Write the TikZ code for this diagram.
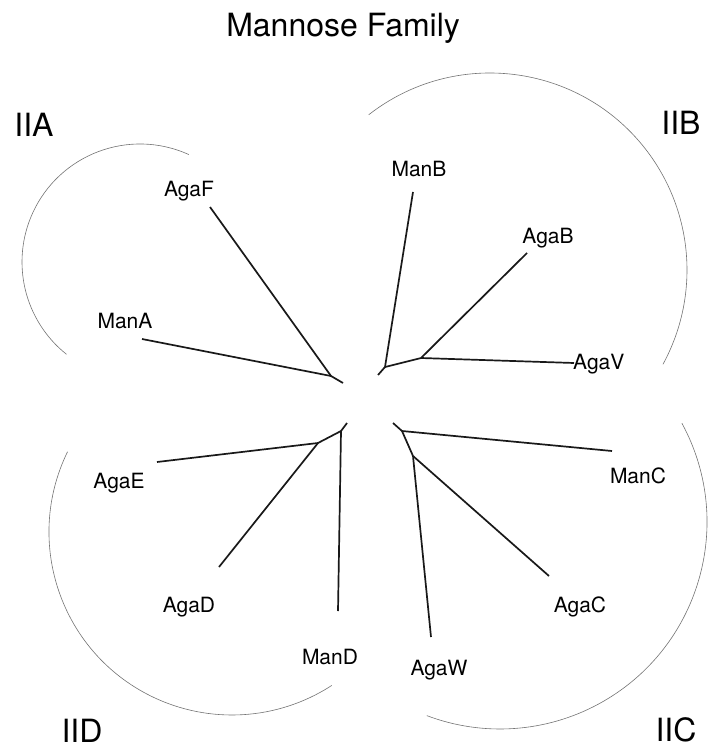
\documentclass[tikz,border=0pt]{standalone}
\usepackage{fontspec}
\setmainfont{TeX Gyre Heros}
\begin{document}
\begin{tikzpicture}[x=1pt,y=-1pt,
  branch/.style={line width=1.7pt,black!90},
  clade/.style={line width=0.6pt,black!55},
  leaf/.style={inner sep=0pt,font=\fontsize{21}{25}\selectfont},
  group/.style={inner sep=0pt,font=\fontsize{32}{38}\selectfont},
  heading/.style={inner sep=0pt,font=\fontsize{32}{38}\selectfont}]
\useasboundingbox (0,0) rectangle (707,749);

% title
\node[heading,anchor=base] (title) at (343,37) {Mannose Family};

% group labels
\node[group] (gA) at (34,125) {IIA};
\node[group] (gB) at (681,123) {IIB};
\node[group] (gC) at (676,730) {IIC};
\node[group] (gD) at (82,731) {IID};

% leaf labels
\node[leaf] (AgaF) at (189,191) {AgaF};
\node[leaf] (ManA) at (125,321) {ManA};
\node[leaf] (ManB) at (419,169) {ManB};
\node[leaf] (AgaB) at (548,238) {AgaB};
\node[leaf,anchor=west] (AgaV) at (573,364) {AgaV};
\node[leaf] (AgaE) at (119,483) {AgaE};
\node[leaf] (AgaD) at (189,607) {AgaD};
\node[leaf] (ManD) at (330,657) {ManD};
\node[leaf] (ManC) at (638,476) {ManC};
\node[leaf] (AgaC) at (580,607) {AgaC};
\node[leaf] (AgaW) at (439,670) {AgaW};

% inner nodes and branch tips
\coordinate (nA) at (331,376);
\coordinate (sA) at (343,383);
\coordinate (tAgaF) at (210,207);
\coordinate (tManA) at (142,339);

\coordinate (nB) at (385,367);
\coordinate (sB) at (378,375);
\coordinate (nB2) at (421,358);
\coordinate (tManB) at (413,192);
\coordinate (tAgaB) at (527,253);
\coordinate (tAgaV) at (574,363);

\coordinate (nD) at (341,431);
\coordinate (sD) at (347,423);
\coordinate (nD2) at (318,443);
\coordinate (tAgaE) at (157,462);
\coordinate (tAgaD) at (219,567);
\coordinate (tManD) at (338,611);

\coordinate (nC) at (402,431);
\coordinate (sC) at (393,423);
\coordinate (nC2) at (413,456);
\coordinate (tManC) at (612,451);
\coordinate (tAgaC) at (549,576);
\coordinate (tAgaW) at (431,637);

% branches
\draw[branch] (sA) -- (nA) -- (tAgaF);
\draw[branch] (nA) -- (tManA);

\draw[branch] (sB) -- (nB) -- (tManB);
\draw[branch] (nB) -- (nB2) -- (tAgaB);
\draw[branch] (nB2) -- (tAgaV);

\draw[branch] (sD) -- (nD) -- (tManD);
\draw[branch] (nD) -- (nD2) -- (tAgaE);
\draw[branch] (nD2) -- (tAgaD);

\draw[branch] (sC) -- (nC) -- (tManC);
\draw[branch] (nC) -- (nC2) -- (tAgaC);
\draw[branch] (nC2) -- (tAgaW);

% clade outlines (angles measured clockwise on the page)
\draw[clade] (140,262) ++(-65.6:118) arc[start angle=-65.6, end angle=-231.5, radius=118];
\draw[clade] (490,270) ++(-128:197) arc[start angle=-128, end angle=28.6, radius=197];
\draw[clade] (500,522) ++(-28.5:207) arc[start angle=-28.5, end angle=110.7, radius=207];
\draw[clade] (232,532) ++(-154:183) arc[start angle=-154, end angle=-303, radius=183];
\end{tikzpicture}
\end{document}
